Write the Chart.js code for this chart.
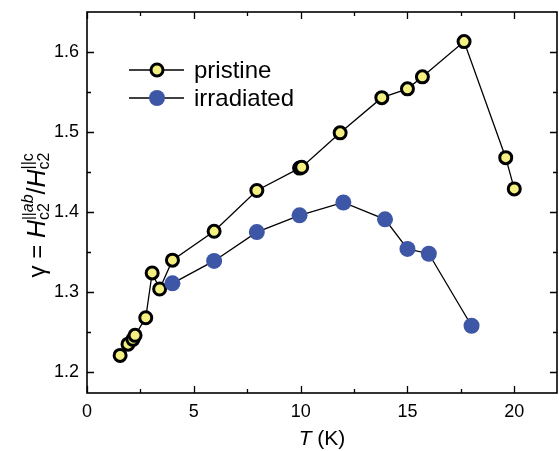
<!DOCTYPE html>
<html>
<head>
<meta charset="utf-8">
<script src="https://cdn.jsdelivr.net/npm/chart.js@4/dist/chart.umd.min.js"></script>
<style>
    html, body { margin: 0; padding: 0; background: #fff; overflow: hidden; }
    canvas { display: block; }
</style>
</head>
<body>
<canvas id="gamma_chart" width="559" height="451"></canvas>
<script>
// anisotropy vs temperature
const pristineT = [1.55, 1.92, 2.15, 2.25, 2.75, 3.05, 3.4, 4.0, 5.95, 7.95, 9.95, 10.05, 11.85, 13.8, 15.0, 15.7, 17.65, 19.6, 20.0]
const pristineGamma = [1.221, 1.235, 1.241, 1.246, 1.268, 1.324, 1.304, 1.340, 1.376, 1.427, 1.455, 1.456, 1.499, 1.543, 1.554, 1.569, 1.613, 1.468, 1.429]

const irradT = [4.0, 5.95, 7.95, 9.95, 12.0, 13.95, 15.0, 16.0, 18.0]
const irradGamma = [1.311, 1.339, 1.375, 1.396, 1.412, 1.391, 1.354, 1.348, 1.258]

const seriesNames = ['pristine', 'irradiated']

const xTicks = [0, 5, 10, 15, 20]
const xMinorTicks = [2.5, 7.5, 12.5, 17.5]
const yTicks = [1.2, 1.3, 1.4, 1.5, 1.6]
const yMinorTicks = [1.25, 1.35, 1.45, 1.55]

const FONT = '"Liberation Sans", Arial, Helvetica, sans-serif'
const yellow = '#f3ef80'
const blue = '#3d56a6'

const toPoints = (xs, ys) => xs.map((x, i) => ({ x: x, y: ys[i] }))

// frame, inward ticks, legend and axis titles
const decorations = {
    id: 'decorations',
    afterDraw(chart) {
        const { ctx, chartArea: a, scales } = chart
        const xs = scales.x
        const ys = scales.y

        ctx.save()
        ctx.strokeStyle = '#000'
        ctx.lineWidth = 1.6
        ctx.strokeRect(a.left, a.top, a.right - a.left, a.bottom - a.top)

        ctx.lineWidth = 1.3
        const tickX = (vals, len) => {
            vals.forEach(v => {
                const px = Math.round(xs.getPixelForValue(v)) + 0.5
                ctx.beginPath()
                ctx.moveTo(px, a.bottom); ctx.lineTo(px, a.bottom - len)
                ctx.moveTo(px, a.top); ctx.lineTo(px, a.top + len)
                ctx.stroke()
            })
        }
        const tickY = (vals, len) => {
            vals.forEach(v => {
                const py = Math.round(ys.getPixelForValue(v)) + 0.5
                ctx.beginPath()
                ctx.moveTo(a.left, py); ctx.lineTo(a.left + len, py)
                ctx.moveTo(a.right, py); ctx.lineTo(a.right - len, py)
                ctx.stroke()
            })
        }
        tickX(xTicks, 7)
        tickX(xMinorTicks, 4)
        tickY(yTicks, 7)
        tickY(yMinorTicks, 4)

        // legend
        const rows = [70, 98]
        chart.data.datasets.forEach((ds, i) => {
            const y = rows[i]
            ctx.strokeStyle = '#000'
            ctx.lineWidth = 1.3
            ctx.beginPath()
            ctx.moveTo(129, y); ctx.lineTo(184, y)
            ctx.stroke()
            ctx.beginPath()
            ctx.arc(157, y, ds.pointRadius, 0, Math.PI * 2)
            ctx.fillStyle = ds.pointBackgroundColor
            ctx.fill()
            if (ds.pointBorderWidth > 0) {
                ctx.lineWidth = ds.pointBorderWidth
                ctx.strokeStyle = ds.pointBorderColor
                ctx.stroke()
            }
            ctx.fillStyle = '#000'
            ctx.font = '24px ' + FONT
            ctx.textAlign = 'left'
            ctx.textBaseline = 'middle'
            ctx.fillText(ds.label, 194, y + 1)
        })

        // x title
        ctx.textBaseline = 'alphabetic'
        ctx.font = 'italic 21px ' + FONT
        const tW = ctx.measureText('T').width
        ctx.font = '21px ' + FONT
        const restW = ctx.measureText(' (K)').width
        let x0 = (a.left + a.right) / 2 - (tW + restW) / 2
        ctx.font = 'italic 21px ' + FONT
        ctx.fillText('T', x0, 445)
        ctx.font = '21px ' + FONT
        ctx.fillText(' (K)', x0 + tW, 445)

        // y title
        const parts = [
            { t: 'γ = ', f: '24px ' },
            { t: 'H', f: 'italic 25px ' },
            { sup: [{ t: '||', f: '15px ' }, { t: 'ab', f: 'italic 16px ' }], sub: [{ t: 'c2', f: '16px ' }] },
            { t: '/', f: '25px ' },
            { t: 'H', f: 'italic 25px ' },
            { sup: [{ t: '||c', f: '16px ' }], sub: [{ t: 'c2', f: '16px ' }] }
        ]
        const w = (list) => list.reduce((s, p) => { ctx.font = p.f + FONT; return s + ctx.measureText(p.t).width }, 0)
        const widths = parts.map(p => p.t !== undefined ? w([p]) : Math.max(w(p.sup), w(p.sub)))
        const total = widths.reduce((s, v) => s + v, 0)

        ctx.translate(45, 215)
        ctx.rotate(-Math.PI / 2)
        let cx = -total / 2
        const drawRun = (list, x, y) => {
            list.forEach(p => {
                ctx.font = p.f + FONT
                ctx.fillText(p.t, x, y)
                x += ctx.measureText(p.t).width
            })
        }
        parts.forEach((p, i) => {
            if (p.t !== undefined) {
                drawRun([p], cx, 0)
            } else {
                drawRun(p.sup, cx, -12)
                drawRun(p.sub, cx, 4)
            }
            cx += widths[i]
        })
        ctx.restore()
    }
}

const data = {
    datasets: [
        {
            label: seriesNames[0],
            data: toPoints(pristineT, pristineGamma),
            showLine: true,
            borderColor: '#000',
            borderWidth: 1.3,
            pointRadius: 6,
            pointBorderWidth: 3,
            pointBackgroundColor: yellow,
            pointBorderColor: '#000',
            order: 1
        },
        {
            label: seriesNames[1],
            data: toPoints(irradT, irradGamma),
            showLine: true,
            borderColor: '#000',
            borderWidth: 1.3,
            pointRadius: 8,
            pointBorderWidth: 0,
            pointBackgroundColor: blue,
            pointBorderColor: blue,
            order: 0
        }
    ]
}

const config = {
    type: 'scatter',
    data: data,
    options: {
        responsive: false,
        animation: false,
        devicePixelRatio: 1,
        layout: { autoPadding: false, padding: { top: 12, right: 2, left: 0, bottom: 0 } },
        plugins: {
            legend: { display: false },
            tooltip: { enabled: false },
            title: { display: false }
        },
        scales: {
            x: {
                type: 'linear',
                min: 0,
                max: 22,
                afterFit: (s) => {
                    s.height = 58
                    s.paddingLeft = 0
                    s.paddingRight = 0
                },
                afterBuildTicks: (s) => { s.ticks = xTicks.map(v => ({ value: v })) },
                grid: { display: false, drawTicks: false },
                border: { display: false },
                ticks: {
                    padding: 8,
                    color: '#000',
                    font: { family: FONT, size: 18 },
                    callback: (v) => String(v)
                }
            },
            y: {
                type: 'linear',
                min: 1.174,
                max: 1.65,
                afterFit: (s) => {
                    s.width = 87
                    s.paddingTop = 0
                    s.paddingBottom = 0
                },
                afterBuildTicks: (s) => { s.ticks = yTicks.map(v => ({ value: v })) },
                grid: { display: false, drawTicks: false },
                border: { display: false },
                ticks: {
                    padding: 8,
                    color: '#000',
                    font: { family: FONT, size: 18 },
                    callback: (v) => Number(v).toFixed(1)
                }
            }
        }
    },
    plugins: [decorations]
}

const ctx = document.getElementById('gamma_chart').getContext('2d')
const gammaChart = new Chart(ctx, config)
</script>
</body>
</html>
